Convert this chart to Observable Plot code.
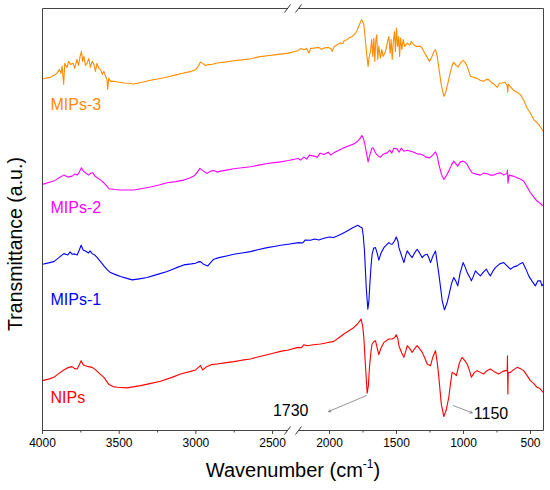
<!DOCTYPE html>
<html><head><meta charset="utf-8">
<script src="https://cdn.jsdelivr.net/npm/d3@7"></script>
<script src="https://cdn.jsdelivr.net/npm/@observablehq/plot@0.6"></script>
<style>body{margin:0;background:#fff}</style>
</head><body><div id="chart"></div><script>
// Wavenumber (cm-1), transmittance (a.u., curves offset)
const mips3 = [[4000,352.3],[3970,353.5],[3948,354],[3925,356],[3904,358.3],[3890,362],[3880,358],[3872,365],[3862,347],[3855,368],[3840,364],[3830,370],[3817,367],[3800,368],[3790,363],[3775,372],[3765,366],[3755,375],[3746,380],[3738,370],[3730,375],[3720,366],[3709,368.3],[3698,373],[3688,364],[3676,370],[3665,367],[3655,360],[3645,368],[3633,363],[3622,362],[3610,357],[3600,360],[3589,355],[3580,352],[3575,342],[3568,353],[3555,350],[3535,350],[3500,349],[3470,348.3],[3440,348],[3405,347.3],[3350,349],[3296,351],[3240,352.5],[3187,354.3],[3130,356.5],[3079,358.3],[3030,360],[3002,361.7],[2985,365],[2970,369.3],[2955,368],[2940,366],[2920,366.7],[2905,366.7],[2861,368.3],[2800,369.5],[2753,370.7],[2700,371.5],[2644,372.7],[2590,374.5],[2535,375.7],[2490,376.5],[2448,377.3],[2394,378.3],
[2241,380.7],[2215,383],[2191,381.7],[2170,383],[2154,378.3],[2140,383],[2117,383.3],[2080,384],[2060,382],[2042,383.3],[2010,384],[1990,383],[1980,380],[1965,385],[1943,386.7],[1920,388.5],[1900,388],[1890,391],[1868,391.7],[1850,394],[1830,395],[1815,397],[1806,398.3],[1795,401],[1782,405],[1770,409],[1761,411.7],[1752,410],[1744,406.7],[1735,395],[1726,381.7],[1718,372],[1712,365],[1704,375],[1694,380],[1685,392],[1677,375],[1669,393.3],[1662,370],[1655,390],[1648,396.7],[1640,372],[1632,385],[1620,373.3],[1610,382],[1600,375],[1582,380],[1570,388],[1557,395],[1548,378],[1540,392],[1532,372],[1524,390],[1515,400],[1508,380],[1500,403.3],[1492,385],[1484,395],[1477,375],[1470,393.3],[1460,382],[1450,392],[1440,385],[1420,388.3],[1400,386],[1390,390],[1371,386.7],[1350,385],[1321,385],[1308,383],[1296,380],[1275,375],[1254,370],[1235,375],[1220,380],[1209,381.7],[1196,375],[1184,363.3],[1166,346.7],[1147,335],[1135,338],[1122,345],[1110,352],[1097,360],[1085,366],[1073,369],[1055,366],[1040,364.3],[1020,369],[1003,371],[988,369],[973,365],[960,360],[948,355],[925,354],[898,352.7],[875,351],[849,350],[830,352],[812,351.7],[800,350],[786,348.3],[770,347],[749,344],[730,348],[712,348.3],[690,349],[675,346],[670,339],[665,347],[645,344],[625,340.7],[600,339],[575,336.7],[550,331],[526,323.3],[500,318],[476,311.7],[455,309],[438,306.7],[420,303],[405,300]];

const mips2 = [[4000,246.7],[3960,248.5],[3926,250],[3895,253],[3861,256],[3835,254],[3807,255],[3790,257],[3774,256],[3760,259],[3746,263.3],[3735,260],[3720,258.3],[3700,256],[3685,258],[3672,258.3],[3658,255],[3643,253.3],[3620,251],[3600,248.3],[3580,245],[3567,242.3],[3530,241.5],[3491,241],[3450,241],[3405,241],[3350,242.5],[3296,244],[3240,246],[3187,248.3],[3130,249.5],[3079,251],[3040,253],[3014,255],[2995,258],[2974,262.7],[2950,260],[2926,257.7],[2905,260],[2883,260.7],[2860,259],[2839,260],[2800,261],[2753,262.3],[2700,263.3],[2644,264.3],[2590,266],[2535,267.7],[2490,268.5],[2448,269.3],[2394,270.7],
[2241,272.7],[2215,271],[2191,274],[2170,272],[2150,276],[2117,275],[2090,274],[2070,278],[2042,276.7],[2010,279],[1990,276],[1968,278.3],[1930,281],[1893,283.3],[1855,285.5],[1818,287.3],[1790,290],[1770,293],[1759,295.7],[1748,293],[1736,286.7],[1724,278],[1712,269.3],[1704,274],[1694,278.3],[1684,283],[1674,283.3],[1662,280],[1649,276.7],[1635,275],[1620,274],[1600,277],[1570,278.3],[1550,281],[1535,278],[1520,283],[1497,282.3],[1480,279],[1465,283],[1445,280],[1420,281],[1396,280],[1370,279],[1346,277.3],[1320,277],[1300,276],[1284,274.3],[1252,273.3],[1230,276],[1209,279.3],[1196,275],[1184,266.7],[1165,257],[1147,251.7],[1130,255],[1110,260],[1090,266],[1073,270],[1055,267],[1043,265],[1025,269],[1003,270],[988,269],[973,266.7],[955,262],[936,258.3],[905,257],[874,256],[850,258],[824,257.3],[800,256],[775,256],[750,257.5],[725,258.3],[700,256],[675,258],[672,261],[668,248],[660,256],[630,255],[600,253.3],[575,252],[551,250],[525,244],[501,238.3],[475,234],[451,230],[430,228],[405,225]];

const mips1 = [[4000,166.7],[3960,168],[3926,169.3],[3895,173],[3861,177.3],[3835,176],[3820,179],[3807,176.7],[3790,177],[3774,176],[3760,181],[3748,185.7],[3735,181],[3720,180],[3700,178],[3690,180],[3676,177.3],[3660,176],[3643,173.3],[3620,169],[3600,165],[3580,161.5],[3557,158.3],[3520,156],[3491,154.3],[3450,152.5],[3415,151],[3370,152],[3317,153.3],[3250,156.5],[3187,159.3],[3130,163],[3079,166],[3030,167],[3002,167.7],[2985,169],[2970,169.3],[2950,166.7],[2922,165],[2900,169],[2883,171.7],[2850,173.3],[2800,175],[2753,176.7],[2700,178],[2644,179.3],[2590,181.5],[2535,183.3],[2490,184.5],[2448,185.7],[2394,186.7],
[2229,188.3],[2200,188],[2180,191],[2142,190.7],[2110,192],[2080,191],[2042,192.7],[2000,194],[1970,193.5],[1943,195],[1910,197],[1868,200],[1830,203],[1800,205],[1789,205.7],[1770,204],[1757,203.3],[1748,195],[1739,180],[1726,143.3],[1714,121.7],[1706,130],[1699,146.7],[1690,165],[1682,176.7],[1670,183],[1657,183.3],[1645,178],[1632,170.7],[1615,178],[1594,183.3],[1575,186],[1557,188.3],[1545,187],[1532,186.7],[1515,190],[1502,194],[1490,190],[1482,183.3],[1462,175],[1445,168.3],[1430,176],[1420,180],[1400,176],[1383,173.3],[1365,178],[1346,181.7],[1328,178],[1308,173.3],[1290,176],[1271,176.7],[1258,173],[1246,168.3],[1228,175],[1209,180],[1196,168],[1184,156.7],[1170,142],[1159,130],[1142,121],[1125,127],[1110,135],[1090,147],[1073,153.3],[1058,150],[1043,145],[1025,158],[1003,168.3],[988,164],[973,158.3],[955,154],[941,150],[925,155],[911,160],[890,157],[874,155],[850,159],[829,161.7],[815,158],[799,155],[780,160],[762,163.3],[730,167],[700,168.3],[675,165],[650,161.7],[625,164],[600,165],[580,167],[558,168.3],[535,162],[513,155],[490,150],[463,145],[445,150],[426,150],[415,145],[405,146.7]];

const nips = [[4000,50],[3960,51.5],[3926,53.3],[3895,57],[3861,60.7],[3835,63],[3807,64],[3790,62],[3774,61.7],[3760,66],[3748,70],[3735,66],[3720,65],[3700,64],[3676,63.3],[3655,61],[3633,57.7],[3600,53.3],[3580,49],[3567,46],[3540,44],[3513,43.3],[3448,42.7],[3400,44],[3361,45],[3300,47],[3231,49.3],[3160,53],[3100,56.7],[3040,59],[3002,60.7],[2985,63],[2970,65],[2955,60.7],[2930,64],[2900,66],[2861,66.7],[2800,68],[2753,69],[2700,70.5],[2644,71.7],[2590,74],[2535,76],[2490,77.7],[2448,79.3],[2394,80.7],
[2241,83.3],[2210,83],[2190,86],[2167,85],[2120,86],[2067,86.7],[2020,88],[1968,89.3],[1930,93],[1893,96.7],[1855,100],[1818,103.3],[1790,107],[1764,111.7],[1752,104],[1744,93.3],[1731,63.3],[1719,37.3],[1710,45],[1702,63.3],[1690,80],[1682,86.7],[1670,89],[1657,90],[1645,83],[1632,76],[1615,83],[1594,88.3],[1557,91.7],[1532,91.7],[1515,93],[1502,96],[1490,92],[1482,85],[1462,78],[1445,73.3],[1430,80],[1420,85],[1400,82],[1383,78.3],[1365,82],[1346,85],[1328,82],[1308,78.3],[1290,73],[1271,66.7],[1246,65],[1228,74],[1209,80],[1196,68],[1184,53.3],[1166,26.7],[1147,14],[1130,20],[1110,33.3],[1097,47],[1085,58.3],[1068,57],[1053,55],[1030,68],[1011,73.3],[990,70],[973,66.7],[955,60],[941,53.3],[920,58],[898,60],[870,58],[849,56.7],[825,60],[799,61.7],[770,59],[737,56.7],[710,59],[687,60],[674,60],[672,75],[669,36.7],[666,58],[650,58.3],[625,61],[600,63.3],[575,62],[551,60],[525,55],[501,50],[475,47],[451,43.3],[430,42],[405,38.3]];

const seriesNames = ["MIPs-3", "MIPs-2", "MIPs-1", "NIPs"];
const seriesData = [mips3, mips2, mips1, nips];
const seriesColors = ["#FF8C00", "#FF00FF", "#0000FF", "#FF0000"];
const labelY = [326.5, 223, 131, 32.5];

const majorTicks = [4000, 3500, 3000, 2500, 2000, 1500, 1000, 500];
const minorTicks = [3750, 3250, 2750, 1750, 1250, 750];

// peak annotations: label, label position, arrow start, arrow end
const peak1730 = {label: "1730", x: 2157, y: 19.5, from: [1725, 35], to: [2007, 19]};
const peak1150 = {label: "1150", x: 923, y: 17, from: [1077, 25], to: [935, 17.7]};

// broken axis: left segment 4000-2400, right segment 2230-400
const breakStart = 2400, breakEnd = 2230;
const xMax = 4000, xMin = 400, yMin = 0, yMax = 423;
const brokenAxis = d3.scaleLinear().domain([xMax, breakStart, breakEnd, xMin]).range([0, 245.4, 256.2, 501.4]);

const rows = [];
seriesData.forEach((arr, i) => {
  let prev = null;
  for (const [w, t] of arr) {
    if (prev !== null && prev >= breakStart && w <= breakEnd) rows.push({w: (breakStart + breakEnd) / 2, t: NaN, name: seriesNames[i]});
    rows.push({w, t, name: seriesNames[i]});
    prev = w;
  }
});

// frame segments (the horizontal edges are interrupted at the axis break)
const frameSegments = [
  {x1: xMax, y1: yMin, x2: breakStart, y2: yMin},
  {x1: breakEnd, y1: yMin, x2: xMin, y2: yMin},
  {x1: xMax, y1: yMax, x2: breakStart, y2: yMax},
  {x1: breakEnd, y1: yMax, x2: xMin, y2: yMax},
  {x1: xMax, y1: yMin, x2: xMax, y2: yMax},
  {x1: xMin, y1: yMin, x2: xMin, y2: yMax}
];

const chart = Plot.plot({
  width: 550, height: 490,
  marginLeft: 42, marginRight: 6.6, marginTop: 8, marginBottom: 60,
  style: {fontFamily: "'Liberation Sans', Arial, sans-serif", fontSize: "12px", background: "#fff", color: "#000", overflow: "visible"},
  x: {transform: brokenAxis, domain: [0, 501.4], axis: null},
  y: {type: "linear", domain: [yMin, yMax], axis: null},
  color: {domain: seriesNames, range: seriesColors},
  marks: [
    Plot.ruleX(majorTicks, {x: d => d, y1: yMin, y2: yMin, insetBottom: -4, stroke: "#444"}),
    Plot.ruleX(minorTicks, {x: d => d, y1: yMin, y2: yMin, insetBottom: -2.5, stroke: "#444"}),
    Plot.text(majorTicks, {x: d => d, y: yMin, text: d => String(d), dy: 12.5, fontSize: 12, fill: "#000"}),
    Plot.line(rows, {x: "w", y: "t", z: "name", stroke: "name", strokeWidth: 1.1}),
    Plot.text(seriesNames, {x: 3948, y: (d, i) => labelY[i], text: d => d, fill: d => d, textAnchor: "start", fontSize: 16}),
    Plot.arrow([peak1730, peak1150], {x1: d => d.from[0], y1: d => d.from[1], x2: d => d.to[0], y2: d => d.to[1], stroke: "#666", strokeWidth: 0.7, headLength: 5}),
    Plot.text([peak1730], {x: "x", y: "y", text: "label", textAnchor: "end", fontSize: 16, fill: "#000"}),
    Plot.text([peak1150], {x: "x", y: "y", text: "label", textAnchor: "start", fontSize: 16, fill: "#000"})
  ]
});

const svg = d3.select(chart);
const xs = chart.scale("x"), ys = chart.scale("y");
const px = w => Math.round(xs.apply(brokenAxis(w))) + 0.5;
const py = v => Math.round(ys.apply(v)) + 0.5;
// frame drawn last so that nothing covers it
for (const s of frameSegments) {
  svg.append("line").attr("x1", px(s.x1)).attr("y1", py(s.y1)).attr("x2", px(s.x2)).attr("y2", py(s.y2))
    .attr("stroke", "#444").attr("stroke-width", 1);
}
for (const w of [breakStart, breakEnd]) {
  for (const v of [yMin, yMax]) {
    svg.append("line").attr("x1", px(w) - 3).attr("y1", py(v) + 4).attr("x2", px(w) + 3).attr("y2", py(v) - 4)
      .attr("stroke", "#333").attr("stroke-width", 1);
  }
}
const xt = svg.append("text").attr("x", 293).attr("y", 477).attr("text-anchor", "middle")
  .attr("font-size", 20).attr("fill", "#000");
xt.append("tspan").text("Wavenumber (cm");
xt.append("tspan").attr("font-size", 12).attr("dy", -9).text("-1");
xt.append("tspan").attr("dy", 9).text(")");
svg.append("text").attr("transform", "translate(15,244) rotate(-90)").attr("text-anchor", "middle")
  .attr("dominant-baseline", "central").attr("font-size", 19.5).attr("fill", "#000").text("Transmittance (a.u.)");

document.getElementById("chart").appendChild(chart);
</script></body></html>
